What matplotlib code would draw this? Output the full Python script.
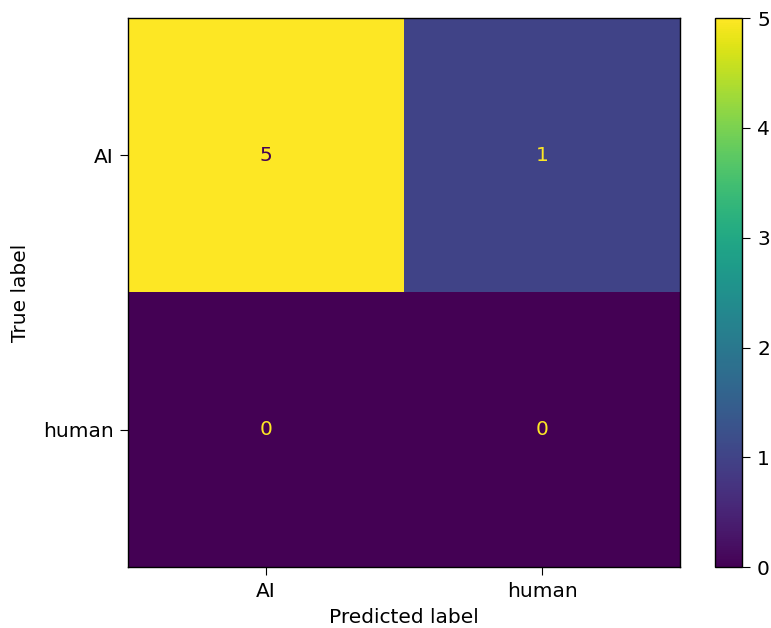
import numpy as np
import matplotlib.pyplot as plt

labels = ['AI', 'human']
cm = np.array([[5, 1],
               [0, 0]])

fs = 14.5
plt.rcParams['xtick.major.size'] = 6
plt.rcParams['ytick.major.size'] = 6
plt.rcParams['xtick.major.pad'] = 4.5
plt.rcParams['ytick.major.pad'] = 4.5
plt.rcParams['axes.linewidth'] = 1.0

fig = plt.figure(figsize=(7.71, 6.28), dpi=100)
ax = fig.add_axes([0.166, 0.097, 0.716, 0.874])
cax = fig.add_axes([0.927, 0.097, 0.036, 0.874])

cmap = plt.get_cmap('viridis')
im = ax.imshow(cm, cmap=cmap, interpolation='nearest', aspect='auto')
cbar = fig.colorbar(im, cax=cax)
cbar.ax.tick_params(labelsize=fs)

vmin, vmax = cm.min(), cm.max()
thresh = (vmin + vmax) / 2.0
for i in range(cm.shape[0]):
    for j in range(cm.shape[1]):
        color = cmap(0) if cm[i, j] >= thresh else cmap(256)
        ax.text(j, i, str(cm[i, j]), ha='center', va='center', color=color, fontsize=fs)

ax.set_xticks(range(len(labels)))
ax.set_xticklabels(labels, fontsize=fs)
ax.set_yticks(range(len(labels)))
ax.set_yticklabels(labels, fontsize=fs)
ax.set_xlabel('Predicted label', fontsize=fs, labelpad=5)
ax.set_ylabel('True label', fontsize=fs, labelpad=9)

plt.savefig('out.png', dpi=100)
